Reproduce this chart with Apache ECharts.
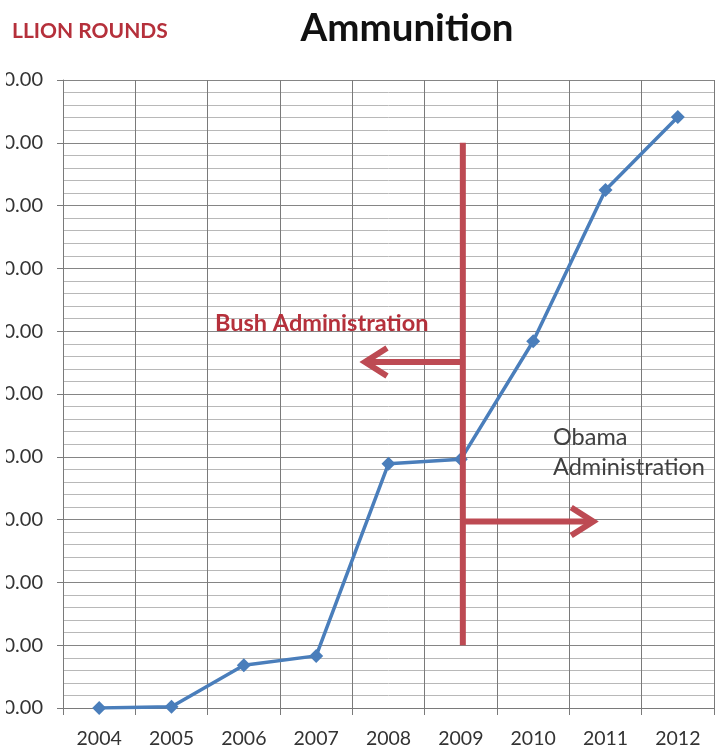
<!DOCTYPE html>
<html>
<head>
<meta charset="utf-8">
<script src="https://cdn.jsdelivr.net/npm/echarts@6/dist/echarts.min.js"></script>
<style>
html,body{margin:0;padding:0;background:#fff;}
#c{width:717px;height:749px;}
</style>
</head>
<body>
<div id="c"></div>
<script>
const years = ['2004','2005','2006','2007','2008','2009','2010','2011','2012'];
const rounds = [0, 2, 68, 83, 389, 396, 584, 825, 941];
const yMin = 0, yMax = 1000, yStep = 100;

const chart = echarts.init(document.getElementById('c'), null, {renderer:'canvas'});
const RED = '#bd4a53';
const option = {
  backgroundColor: '#fff',
  animation: false,
  title: [
    {text: 'Ammunition', left: 402, top: 4, textAlign: 'center',
     textStyle: {fontFamily: 'Lato', fontWeight: 'bold', fontSize: 38.5, color: '#111'}},
    {text: 'LLION ROUNDS', left: 7, top: 16,
     textStyle: {fontFamily: 'Lato', fontWeight: 'bold', fontSize: 21, color: '#b5303b'}}
  ],
  grid: {left: 63, right: 3, top: 80, bottom: 41, containLabel: false, outerBoundsMode: 'none'},
  xAxis: {
    type: 'category', data: years, boundaryGap: true,
    axisLine: {show: true, lineStyle: {color: '#7a7a7a', width: 1}},
    axisTick: {show: true, length: 7, lineStyle: {color: '#7a7a7a'}},
    splitLine: {show: true, lineStyle: {color: '#7a7a7a', width: 1}},
    axisLabel: {fontFamily: 'Lato', fontSize: 19.5, color: '#333', margin: 21}
  },
  yAxis: {
    type: 'value', min: yMin, max: yMax, interval: yStep,
    axisLine: {show: true, lineStyle: {color: '#7a7a7a', width: 1}},
    axisTick: {show: true, length: 6, lineStyle: {color: '#7a7a7a'}},
    splitLine: {show: true, lineStyle: {color: '#858585', width: 1.2}},
    minorTick: {show: false, splitNumber: 5},
    minorSplitLine: {show: true, lineStyle: {color: '#b8b8b8', width: 1}},
    axisLabel: {fontFamily: 'Lato', fontSize: 20, color: '#333', margin: 20,
      formatter: v => v.toFixed(2)}
  },
  series: [{
    type: 'line', data: rounds, z: 5,
    symbol: 'diamond', symbolSize: 14,
    lineStyle: {color: '#4a7ebb', width: 3.5},
    itemStyle: {color: '#4a7ebb'}
  }]
};
chart.setOption(option);

// annotations positioned from data coordinates
const px = (cat, val) => chart.convertToPixel({xAxisIndex: 0, yAxisIndex: 0}, [cat, val]);
const vTop = px('2009', 900), vBot = px('2009', 100);
const x09 = vTop[0] + 2;
const catW = px('2010', 0)[0] - px('2009', 0)[0];
const bushY = px('2009', 551)[1];
const obamaY = px('2009', 297)[1];
const bushTip = x09 - catW * 1.38;
const obamaTip = x09 + catW * 1.83;
const head = 24, hh = 14;
chart.setOption({
  graphic: [
    // white margin strip at far left, as in the cropped original
    {type: 'rect', z: 20, silent: true, shape: {x: 0, y: 60, width: 6, height: 670},
     style: {fill: '#fff'}},
    {type: 'line', z: 10, shape: {x1: x09, y1: vTop[1], x2: x09, y2: vBot[1]},
     style: {stroke: RED, lineWidth: 6}},
    {type: 'line', z: 10, shape: {x1: x09, y1: bushY, x2: bushTip + 4, y2: bushY},
     style: {stroke: RED, lineWidth: 6}},
    {type: 'polyline', z: 10, shape: {points: [[bushTip + head, bushY - hh], [bushTip + 2, bushY], [bushTip + head, bushY + hh]]},
     style: {stroke: RED, lineWidth: 6, lineJoin: 'miter', fill: null}},
    {type: 'line', z: 10, shape: {x1: x09, y1: obamaY, x2: obamaTip - 4, y2: obamaY},
     style: {stroke: RED, lineWidth: 6}},
    {type: 'polyline', z: 10, shape: {points: [[obamaTip - head, obamaY - hh], [obamaTip - 2, obamaY], [obamaTip - head, obamaY + hh]]},
     style: {stroke: RED, lineWidth: 6, lineJoin: 'miter', fill: null}},
    {type: 'text', z: 11, left: 215, top: 311,
     style: {text: 'Bush Administration', fontFamily: 'Lato', fontWeight: 'bold', fontSize: 23.5, fill: '#b5303b'}},
    {type: 'text', z: 11, left: 553, top: 422,
     style: {text: 'Obama\nAdministration', fontFamily: 'Lato', fontSize: 23.5, lineHeight: 30, fill: '#404040'}}
  ]
});
</script>
</body>
</html>
